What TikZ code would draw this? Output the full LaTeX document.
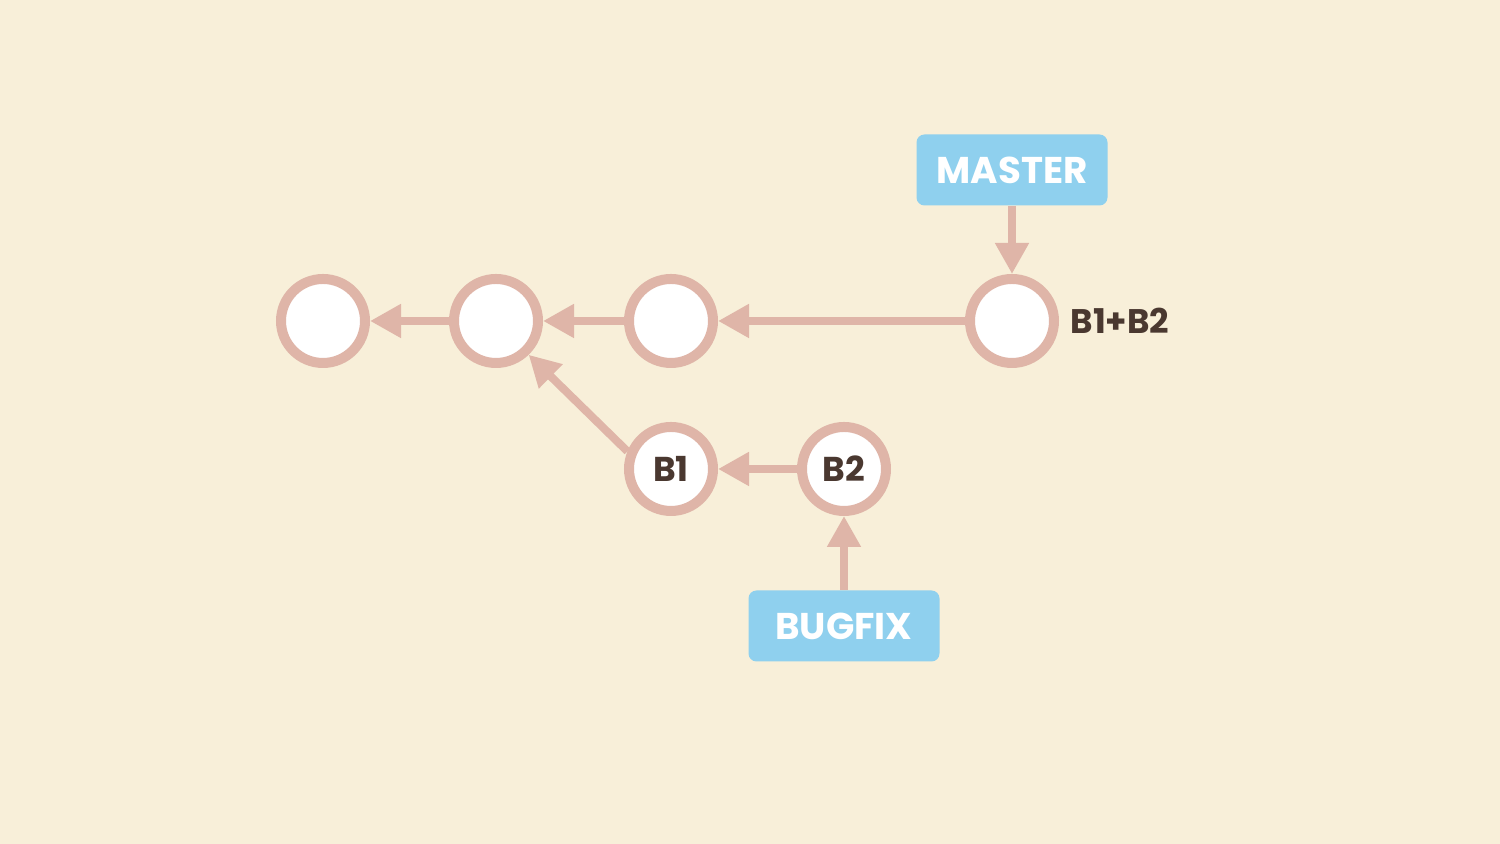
\documentclass[tikz,border=0pt]{standalone}
\usepackage{fontspec}
\setmainfont{Poppins}
\usepackage{xcolor}
\usetikzlibrary{arrows.meta,positioning}

\definecolor{paper}{HTML}{F8EFD9}
\definecolor{ring}{HTML}{DFB5A8}
\definecolor{tagblue}{HTML}{8FD0EE}
\definecolor{ink}{HTML}{4A3830}

\tikzset{
  commit/.style={circle, draw=ring, fill=white, line width=0.1cm,
                 minimum size=0.84cm, inner sep=0pt,
                 font=\bfseries\fontsize{9.8}{9.8}\selectfont, text=ink},
  branch/.style={rectangle, rounded corners=0.08cm, fill=tagblue,
                 minimum width=1.91cm, minimum height=0.71cm, inner sep=0pt,
                 font=\bfseries\fontsize{10.6}{10.6}\selectfont, text=white},
  link/.style={draw=ring, line width=0.08cm,
               -{Triangle[length=0.31cm, width=0.32cm]}}
}

\begin{document}
\begin{tikzpicture}[node distance=1.73cm]
  \fill[paper] (0,0) rectangle (15,8.44);
  \useasboundingbox (0,0) rectangle (15,8.44);

  \node[commit] (C1) at (3.23,5.23)                         {};
  \node[commit] (C2) [right of=C1]                           {};
  \node[commit] (C3) [right of=C2, node distance=1.75cm]     {};
  \node[commit] (C4) [right of=C3, node distance=3.41cm]     {};
  \node[commit] (B1) [below of=C3, node distance=1.48cm]     {B1};
  \node[commit] (B2) [right of=B1]                           {B2};

  \node[branch] (master) [above of=C4, node distance=1.51cm] {MASTER};
  \node[branch] (bugfix) [below of=B2, node distance=1.57cm] {BUGFIX};
  \node[text=ink, font=\bfseries\fontsize{9.7}{9.7}\selectfont]
        (merge) [right of=C4, node distance=1.08cm]          {B1+B2};

  \path (C2)      edge [link] (C1)
        (C3)      edge [link] (C2)
        (C4)      edge [link] (C3)
        (B1.158)  edge [link] (C2.-46)
        (B2)      edge [link] (B1)
        (master)  edge [link] (C4)
        (bugfix)  edge [link] (B2)
        ;
\end{tikzpicture}
\end{document}
